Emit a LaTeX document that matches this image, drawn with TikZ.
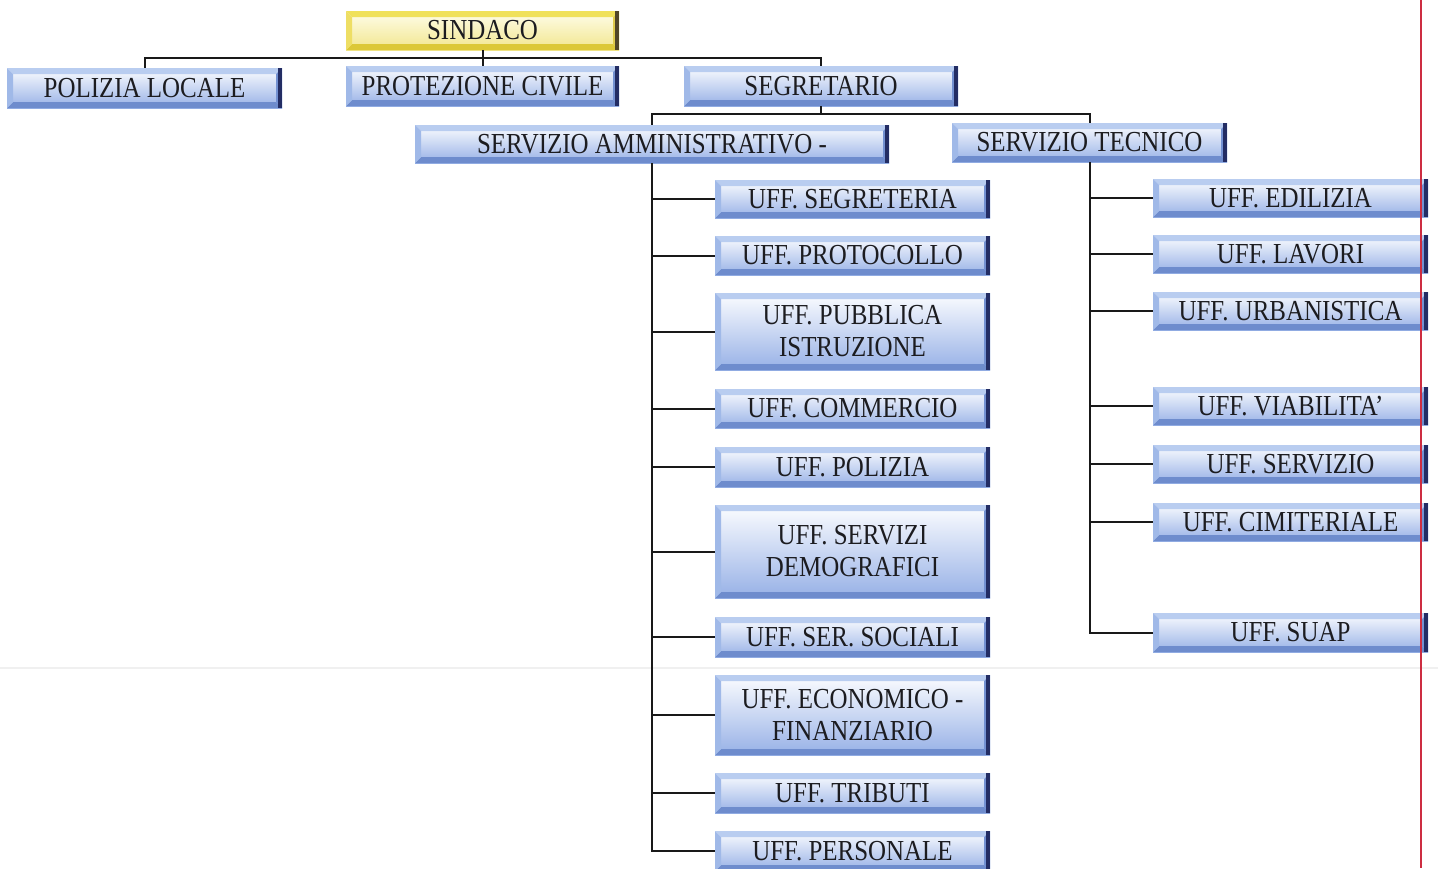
\documentclass[tikz,border=0pt]{standalone}
\usepackage{fontspec}
\setmainfont{Liberation Serif}[FakeStretch=0.86]
\usetikzlibrary{calc}
\definecolor{txt}{RGB}{28,28,32}
\definecolor{btop}{RGB}{252,253,255}
\definecolor{bmid}{RGB}{232,239,252}
\definecolor{bbot}{RGB}{150,176,230}
\definecolor{bvT}{RGB}{185,205,240}
\definecolor{bvB}{RGB}{110,140,205}
\definecolor{bvL}{RGB}{160,185,232}
\definecolor{bvR}{RGB}{115,145,210}
\definecolor{bdark}{RGB}{35,45,100}
\definecolor{ytop}{RGB}{254,253,235}
\definecolor{ymid}{RGB}{252,248,210}
\definecolor{ybot}{RGB}{242,230,140}
\definecolor{yvT}{RGB}{240,225,90}
\definecolor{yvB}{RGB}{220,200,55}
\definecolor{yvL}{RGB}{238,222,100}
\definecolor{yvR}{RGB}{222,202,75}
\definecolor{ydark}{RGB}{80,70,40}
\definecolor{redline}{RGB}{205,45,65}
\newcommand{\bevel}[5]{%
  \coordinate (NW) at (path picture bounding box.north west);
  \coordinate (NE) at (path picture bounding box.north east);
  \coordinate (SW) at (path picture bounding box.south west);
  \coordinate (SE) at (path picture bounding box.south east);
  \fill[#1] (NW) -- (NE) -- ([shift={(-3pt,-3pt)}]NE) -- ([shift={(3pt,-3pt)}]NW) -- cycle;
  \fill[#2] (SW) -- (SE) -- ([shift={(-3pt,3pt)}]SE) -- ([shift={(3pt,3pt)}]SW) -- cycle;
  \fill[#3] (NW) -- ([shift={(3pt,-3pt)}]NW) -- ([shift={(3pt,3pt)}]SW) -- (SW) -- cycle;
  \fill[#4] (NE) -- ([shift={(-3pt,-3pt)}]NE) -- ([shift={(-3pt,3pt)}]SE) -- (SE) -- cycle;
  \fill[#5] ([xshift=-2pt]NE) rectangle (SE);
}
\tikzset{
  box/.style={rectangle, inner sep=0pt, align=center, text=txt,
    font=\fontsize{14.5}{16}\selectfont,
    top color=btop, middle color=bmid, bottom color=bbot,
    path picture={\bevel{bvT}{bvB}{bvL}{bvR}{bdark}}},
  ybox/.style={box, top color=ytop, middle color=ymid, bottom color=ybot,
    path picture={\bevel{yvT}{yvB}{yvL}{yvR}{ydark}}},
  wd/.style={minimum width=#1*0.5pt},
  ht/.style={minimum height=#1*0.5pt},
  conn/.style={draw=black!90, line width=1pt}
}
\begin{document}
\begin{tikzpicture}[x=0.5pt,y=-0.5pt]
\useasboundingbox (0,0) rectangle (1438,868);
\fill[white] (0,0) rectangle (1438,868);
\draw[black!6, line width=0.6pt] (0,668) -- (1438,668);

% top level
\node[ybox, wd=273, ht=39] (sin) at (482.5,30.5) {SINDACO};
\node[box, wd=275, ht=40] (pol) at (144.5,88) {POLIZIA LOCALE};
\node[box, wd=273, ht=40] (pro) at (482.5,86) {PROTEZIONE CIVILE};
\node[box, wd=274, ht=40] (seg) at (821,86) {SEGRETARIO};
\node[box, wd=474, ht=38] (amm) at (652,144) {SERVIZIO AMMINISTRATIVO -};
\node[box, wd=275, ht=39] (tec) at (1089.5,142.5) {SERVIZIO TECNICO};

% left column
\node[box, wd=275, ht=38] (a1) at (852.5,199) {UFF. SEGRETERIA};
\node[box, wd=275, ht=39] (a2) at (852.5,255.5) {UFF. PROTOCOLLO};
\node[box, wd=275, ht=77] (a3) at (852.5,331.5) {UFF. PUBBLICA\\ISTRUZIONE};
\node[box, wd=275, ht=39] (a4) at (852.5,408.5) {UFF. COMMERCIO};
\node[box, wd=275, ht=40] (a5) at (852.5,467) {UFF. POLIZIA};
\node[box, wd=275, ht=93] (a6) at (852.5,551.5) {UFF. SERVIZI\\DEMOGRAFICI};
\node[box, wd=275, ht=40] (a7) at (852.5,637) {UFF. SER. SOCIALI};
\node[box, wd=275, ht=80] (a8) at (852.5,715) {UFF. ECONOMICO -\\FINANZIARIO};
\node[box, wd=275, ht=40] (a9) at (852.5,793) {UFF. TRIBUTI};
\node[box, wd=275, ht=40] (a10) at (852.5,851) {UFF. PERSONALE};

% right column
\node[box, wd=275, ht=38] (b1) at (1290.5,198) {UFF. EDILIZIA};
\node[box, wd=275, ht=38] (b2) at (1290.5,254) {UFF. LAVORI};
\node[box, wd=275, ht=38] (b3) at (1290.5,311) {UFF. URBANISTICA};
\node[box, wd=275, ht=38] (b4) at (1290.5,406) {UFF. VIABILITA'};
\node[box, wd=275, ht=38] (b5) at (1290.5,464) {UFF. SERVIZIO};
\node[box, wd=275, ht=38] (b6) at (1290.5,522) {UFF. CIMITERIALE};
\node[box, wd=275, ht=39] (b7) at (1290.5,632.5) {UFF. SUAP};

% connectors
\coordinate (bus1) at (482.5,58);
\draw[conn] (pol.north) |- (bus1) -| (seg.north);
\draw[conn] (sin.south) -- (pro.north);
\coordinate (bus2) at (821,114);
\draw[conn] (seg.south) -- (bus2);
\draw[conn] (amm.north) |- (bus2) -| (tec.north);
\foreach \n in {a1,a2,a3,a4,a5,a6,a7,a8,a9,a10}
  \draw[conn] (amm.south) |- (\n.west);
\foreach \n in {b1,b2,b3,b4,b5,b6,b7}
  \draw[conn] (tec.south) |- (\n.west);

\draw[redline, line width=1pt] (1421,0) -- (1421,868);
\end{tikzpicture}
\end{document}
